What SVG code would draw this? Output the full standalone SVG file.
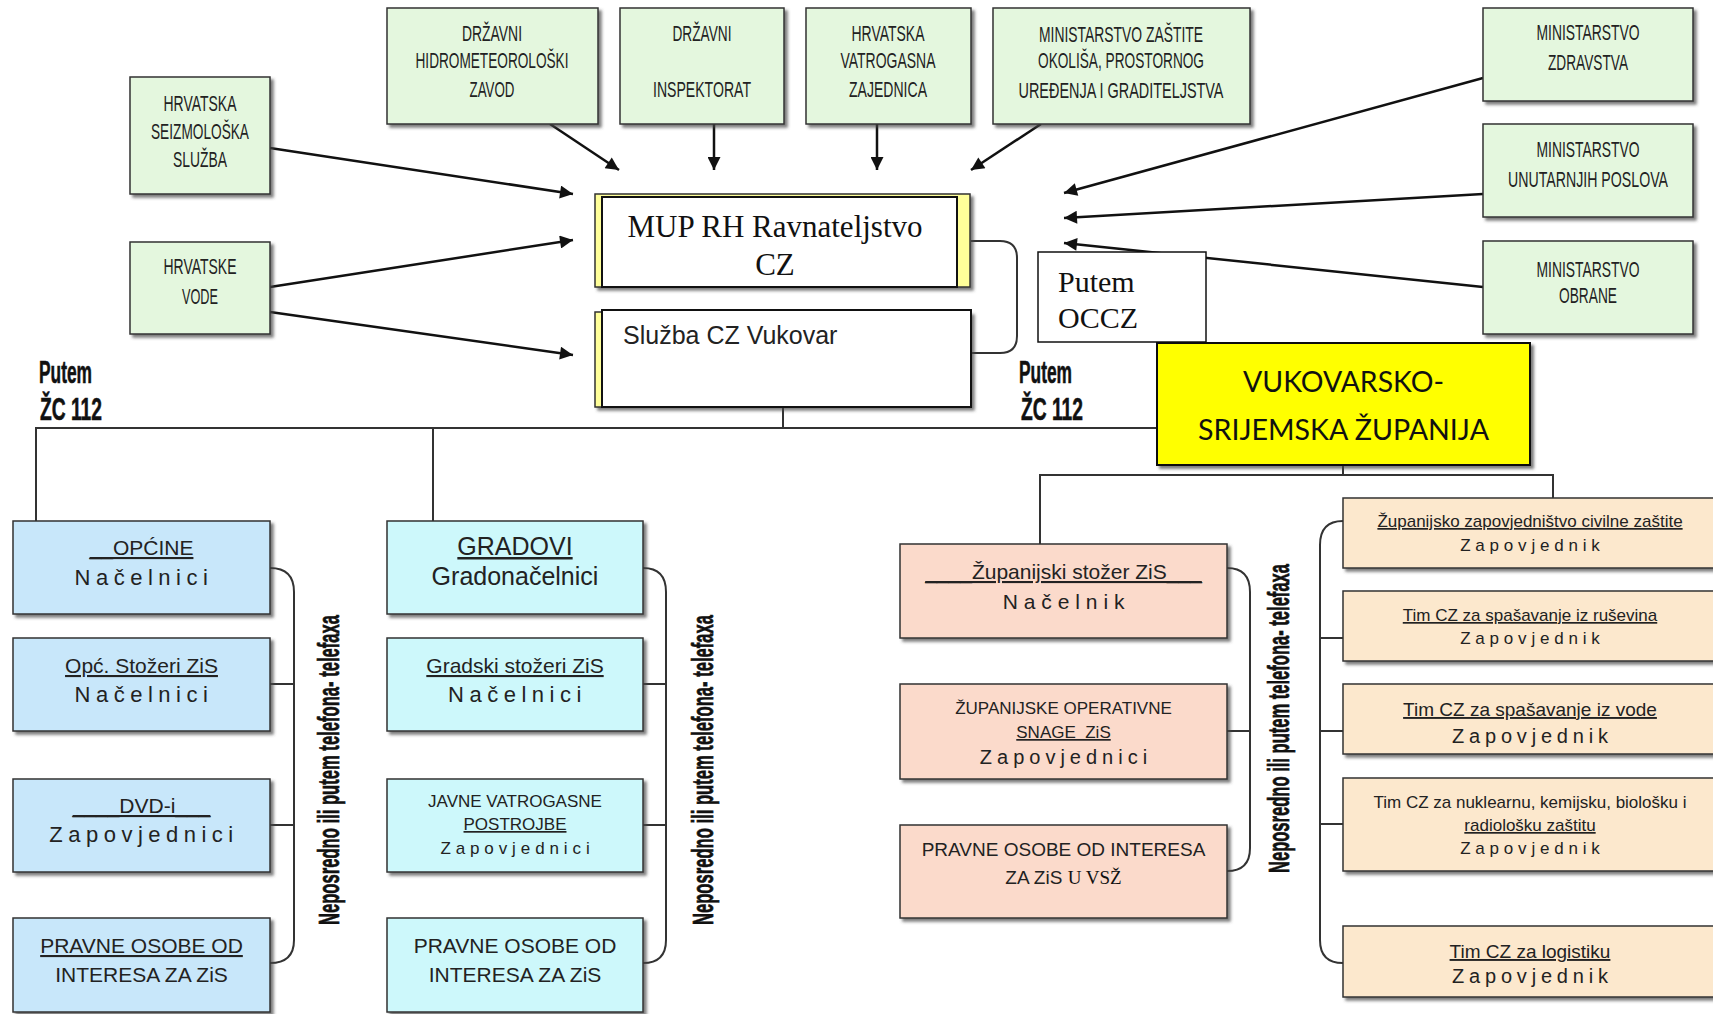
<svg xmlns="http://www.w3.org/2000/svg" width="1713" height="1014" viewBox="0 0 1713 1014">
<defs>
<filter id="sh" x="-5%" y="-5%" width="115%" height="125%"><feDropShadow dx="3" dy="3" stdDeviation="1.5" flood-color="#444" flood-opacity="0.7"/></filter>
<marker id="ah" viewBox="0 0 10 10" refX="10" refY="5" markerWidth="15" markerHeight="13" markerUnits="userSpaceOnUse" orient="auto"><path d="M0,0 L10,5 L0,10 z" fill="#111"/></marker>
<style>
.g{fill:#e4f7de;stroke:#333;stroke-width:1.5;filter:url(#sh)}
.b1{fill:#c8e7fa;stroke:#333;stroke-width:1.5;filter:url(#sh)}
.b2{fill:#cdf8fb;stroke:#333;stroke-width:1.5;filter:url(#sh)}
.sa{fill:#fbdacb;stroke:#333;stroke-width:1.5;filter:url(#sh)}
.ta{fill:#fce8cd;stroke:#333;stroke-width:1.5;filter:url(#sh)}
.gt{font-family:"Liberation Sans Narrow","Liberation Sans",sans-serif;font-size:22px;fill:#222;text-anchor:middle}
.t{font-family:"Liberation Sans",Arial,sans-serif;fill:#222;text-anchor:middle}
.u{text-decoration:underline}
.vt{font-family:"Liberation Sans",Arial,sans-serif;font-weight:bold;font-size:30px;fill:#111;stroke:#111;stroke-width:0.7}
.pz{font-family:"Liberation Sans",Arial,sans-serif;font-weight:bold;font-size:32px;fill:#111;stroke:#111;stroke-width:0.6}
.ln{fill:none;stroke:#333;stroke-width:2}
.ar{fill:none;stroke:#111;stroke-width:2.5;marker-end:url(#ah)}
.tm{font-family:"Liberation Serif","Times New Roman",serif;fill:#111}
</style>
</defs>

<g id="connectors">
<line class="ar" x1="270" y1="148" x2="573" y2="194"/>
<line class="ar" x1="270" y1="287" x2="573" y2="240"/>
<line class="ar" x1="270" y1="312" x2="573" y2="355"/>
<line class="ar" x1="550" y1="124" x2="619" y2="170"/>
<line class="ar" x1="714" y1="124" x2="714" y2="170"/>
<line class="ar" x1="877" y1="124" x2="877" y2="170"/>
<line class="ar" x1="1041" y1="124" x2="971" y2="170"/>
<line class="ar" x1="1483" y1="78" x2="1064" y2="193"/>
<line class="ar" x1="1483" y1="194" x2="1064" y2="218"/>
<line class="ar" x1="1483" y1="287" x2="1064" y2="243"/>
<path class="ln" d="M971,241 H1000 Q1017,241 1017,258 V336 Q1017,353 1000,353 H971"/>
<path class="ln" d="M36,521 V428 H1157 M783,407 V428 M433,428 V521"/>
<path class="ln" d="M1343,465 V475 M1040,544 V475 H1553 V498"/>
<path class="ln" d="M270,568 Q294,568 294,592 V940 Q294,963 270,963 M270,684 H294 M270,825 H294"/>
<path class="ln" d="M643,568 Q666,568 666,592 V940 Q666,963 643,963 M643,684 H666 M643,825 H666"/>
<path class="ln" d="M1227,568 Q1250,568 1250,592 V848 Q1250,871 1227,871 M1227,731 H1250"/>
<path class="ln" d="M1343,521 Q1320,521 1320,545 V940 Q1320,963 1343,963 M1320,638 H1343 M1320,731 H1343 M1320,824 H1343"/>
</g>

<g id="n-seiz"><rect class="g" x="130" y="77" width="140" height="117"/>
<text class="gt" x="200" y="111" textLength="73" lengthAdjust="spacingAndGlyphs">HRVATSKA</text>
<text class="gt" x="200" y="139" textLength="98" lengthAdjust="spacingAndGlyphs">SEIZMOLOŠKA</text>
<text class="gt" x="200" y="167" textLength="54" lengthAdjust="spacingAndGlyphs">SLUŽBA</text></g>

<g id="n-vode"><rect class="g" x="130" y="242" width="140" height="92"/>
<text class="gt" x="200" y="274" textLength="73" lengthAdjust="spacingAndGlyphs">HRVATSKE</text>
<text class="gt" x="200" y="304" textLength="36" lengthAdjust="spacingAndGlyphs">VODE</text></g>

<g id="n-dhmz"><rect class="g" x="387" y="8" width="211" height="116"/>
<text class="gt" x="492" y="41" textLength="60" lengthAdjust="spacingAndGlyphs">DRŽAVNI</text>
<text class="gt" x="492" y="68" textLength="153" lengthAdjust="spacingAndGlyphs">HIDROMETEOROLOŠKI</text>
<text class="gt" x="492" y="97" textLength="45" lengthAdjust="spacingAndGlyphs">ZAVOD</text></g>

<g id="n-insp"><rect class="g" x="620" y="8" width="164" height="116"/>
<text class="gt" x="702" y="41" textLength="59" lengthAdjust="spacingAndGlyphs">DRŽAVNI</text>
<text class="gt" x="702" y="97" textLength="98" lengthAdjust="spacingAndGlyphs">INSPEKTORAT</text></g>

<g id="n-hvz"><rect class="g" x="806" y="8" width="165" height="116"/>
<text class="gt" x="888" y="41" textLength="73" lengthAdjust="spacingAndGlyphs">HRVATSKA</text>
<text class="gt" x="888" y="68" textLength="95" lengthAdjust="spacingAndGlyphs">VATROGASNA</text>
<text class="gt" x="888" y="97" textLength="78" lengthAdjust="spacingAndGlyphs">ZAJEDNICA</text></g>

<g id="n-mzopug"><rect class="g" x="993" y="8" width="257" height="116"/>
<text class="gt" x="1121" y="42" textLength="164" lengthAdjust="spacingAndGlyphs">MINISTARSTVO ZAŠTITE</text>
<text class="gt" x="1121" y="68" textLength="166" lengthAdjust="spacingAndGlyphs">OKOLIŠA, PROSTORNOG</text>
<text class="gt" x="1121" y="98" textLength="205" lengthAdjust="spacingAndGlyphs">UREĐENJA I GRADITELJSTVA</text></g>

<g id="n-zdrav"><rect class="g" x="1483" y="8" width="210" height="93"/>
<text class="gt" x="1588" y="40" textLength="103" lengthAdjust="spacingAndGlyphs">MINISTARSTVO</text>
<text class="gt" x="1588" y="70" textLength="80" lengthAdjust="spacingAndGlyphs">ZDRAVSTVA</text></g>

<g id="n-unut"><rect class="g" x="1483" y="124" width="210" height="93"/>
<text class="gt" x="1588" y="157" textLength="103" lengthAdjust="spacingAndGlyphs">MINISTARSTVO</text>
<text class="gt" x="1588" y="187" textLength="160" lengthAdjust="spacingAndGlyphs">UNUTARNJIH POSLOVA</text></g>

<g id="n-obrane"><rect class="g" x="1483" y="241" width="210" height="93"/>
<text class="gt" x="1588" y="277" textLength="103" lengthAdjust="spacingAndGlyphs">MINISTARSTVO</text>
<text class="gt" x="1588" y="303" textLength="58" lengthAdjust="spacingAndGlyphs">OBRANE</text></g>

<g id="n-mup"><rect x="595" y="194" width="375" height="93" fill="#ffff99" stroke="#333" stroke-width="1.5" filter="url(#sh)"/>
<rect x="602" y="197" width="355" height="90" fill="#fff" stroke="#111" stroke-width="2"/>
<text class="tm" x="775" y="237" font-size="31" text-anchor="middle">MUP RH Ravnateljstvo</text>
<text class="tm" x="775" y="275" font-size="31" text-anchor="middle">CZ</text></g>

<g id="n-sluzba"><rect x="595" y="312" width="376" height="95" fill="#ffff99" stroke="#333" stroke-width="1.5" filter="url(#sh)"/>
<rect x="602" y="310" width="369" height="97" fill="#fff" stroke="#111" stroke-width="2"/>
<text class="t" x="623" y="344" font-size="25" style="text-anchor:start">Služba CZ Vukovar</text></g>

<g id="n-occz"><rect x="1038" y="252" width="168" height="90" fill="#fff" stroke="#111" stroke-width="1.5"/>
<text class="tm" x="1058" y="292" font-size="30">Putem</text>
<text class="tm" x="1058" y="328" font-size="30">OCCZ</text></g>

<g id="n-vsz"><rect x="1157" y="343" width="373" height="122" fill="#ffff00" stroke="#111" stroke-width="2" filter="url(#sh)"/>
<text x="1343.5" y="392" font-family="Lato,'Open Sans',sans-serif" font-size="29" fill="#111" text-anchor="middle" textLength="201" lengthAdjust="spacingAndGlyphs">VUKOVARSKO-</text>
<text x="1343.5" y="440" font-family="Lato,'Open Sans',sans-serif" font-size="29" fill="#111" text-anchor="middle" textLength="291" lengthAdjust="spacingAndGlyphs">SRIJEMSKA ŽUPANIJA</text></g>

<g id="lbl-zc-left">
<text class="pz" x="39" y="383" textLength="53" lengthAdjust="spacingAndGlyphs">Putem</text>
<text class="pz" x="40" y="420" textLength="62" lengthAdjust="spacingAndGlyphs">ŽC 112</text></g>
<g id="lbl-zc-mid">
<text class="pz" x="1019" y="383" textLength="53" lengthAdjust="spacingAndGlyphs">Putem</text>
<text class="pz" x="1021" y="420" textLength="62" lengthAdjust="spacingAndGlyphs">ŽC 112</text></g>

<g id="n-opcine"><rect class="b1" x="13" y="521" width="257" height="93"/>
<text class="t u" x="141.5" y="555" font-size="21">__OPĆINE</text>
<text class="t" x="144" y="585" font-size="22" letter-spacing="5.5">Načelnici</text></g>
<g id="n-opcstozeri"><rect class="b1" x="13" y="638" width="257" height="93"/>
<text class="t u" x="141.5" y="673" font-size="21">Opć. Stožeri ZiS</text>
<text class="t" x="144" y="702" font-size="22" letter-spacing="5.5">Načelnici</text></g>
<g id="n-dvd"><rect class="b1" x="13" y="779" width="257" height="93"/>
<text class="t u" x="141.5" y="813" font-size="21">____DVD-i___</text>
<text class="t" x="144" y="842" font-size="22" letter-spacing="5.5">Zapovjednici</text></g>
<g id="n-pravne1"><rect class="b1" x="13" y="918" width="257" height="94"/>
<text class="t u" x="141.5" y="953" font-size="21">PRAVNE OSOBE OD</text>
<text class="t" x="141.5" y="982" font-size="21">INTERESA ZA ZiS</text></g>

<g id="n-gradovi"><rect class="b2" x="387" y="521" width="256" height="93"/>
<text class="t u" x="515" y="555" font-size="25">GRADOVI</text>
<text class="t" x="515" y="585" font-size="25">Gradonačelnici</text></g>
<g id="n-gradstozeri"><rect class="b2" x="387" y="638" width="256" height="93"/>
<text class="t u" x="515" y="673" font-size="21">Gradski stožeri ZiS</text>
<text class="t" x="517.5" y="702" font-size="22" letter-spacing="5.5">Načelnici</text></g>
<g id="n-jvp"><rect class="b2" x="387" y="779" width="256" height="93"/>
<text class="t" x="515" y="807" font-size="17">JAVNE VATROGASNE</text>
<text class="t u" x="515" y="830" font-size="17">POSTROJBE</text>
<text class="t" x="517.5" y="854" font-size="17" letter-spacing="4.9">Zapovjednici</text></g>
<g id="n-pravne2"><rect class="b2" x="387" y="918" width="256" height="94"/>
<text class="t" x="515" y="953" font-size="21">PRAVNE OSOBE OD</text>
<text class="t" x="515" y="982" font-size="21">INTERESA ZA ZiS</text></g>

<g id="n-zupstozer"><rect class="sa" x="900" y="544" width="327" height="94"/>
<text class="t u" x="1063.5" y="579" font-size="21">____Županijski stožer ZiS___</text>
<text class="t" x="1066.5" y="609" font-size="21" letter-spacing="5.9">Načelnik</text></g>
<g id="n-zupops"><rect class="sa" x="900" y="684" width="327" height="95"/>
<text class="t" x="1063.5" y="714" font-size="17">ŽUPANIJSKE OPERATIVNE</text>
<text class="t u" x="1063.5" y="738" font-size="17" xml:space="preserve">SNAGE  ZiS</text>
<text class="t" x="1066" y="764" font-size="20" letter-spacing="5">Zapovjednici</text></g>
<g id="n-pravne3"><rect class="sa" x="900" y="825" width="327" height="93"/>
<text class="t" x="1063.5" y="856" font-size="19">PRAVNE OSOBE OD INTERESA</text>
<text class="t" x="1063.5" y="884" font-size="19">ZA ZiS <tspan class="tm">U VSŽ</tspan></text></g>

<g id="n-zapcz"><rect class="ta" x="1343" y="498" width="380" height="70"/>
<text class="t u" x="1530" y="527" font-size="17">Županijsko zapovjedništvo civilne zaštite</text>
<text class="t" x="1532.4" y="551" font-size="17" letter-spacing="4.8">Zapovjednik</text></g>
<g id="n-rusevine"><rect class="ta" x="1343" y="591" width="380" height="70"/>
<text class="t u" x="1530" y="621" font-size="17">Tim CZ za spašavanje iz ruševina</text>
<text class="t" x="1532.4" y="644" font-size="17" letter-spacing="4.8">Zapovjednik</text></g>
<g id="n-voda"><rect class="ta" x="1343" y="684" width="380" height="70"/>
<text class="t u" x="1530" y="716" font-size="19">Tim CZ za spašavanje iz vode</text>
<text class="t" x="1532.4" y="743" font-size="20" letter-spacing="4.8">Zapovjednik</text></g>
<g id="n-nkbr"><rect class="ta" x="1343" y="778" width="380" height="93"/>
<text class="t" x="1530" y="808" font-size="17">Tim CZ za nuklearnu, kemijsku, biološku i</text>
<text class="t u" x="1530" y="831" font-size="17">radiološku zaštitu</text>
<text class="t" x="1532.4" y="854" font-size="17" letter-spacing="4.8">Zapovjednik</text></g>
<g id="n-logistika"><rect class="ta" x="1343" y="926" width="380" height="71"/>
<text class="t u" x="1530" y="958" font-size="19">Tim CZ za logistiku</text>
<text class="t" x="1532.4" y="983" font-size="20" letter-spacing="4.8">Zapovjednik</text></g>

<g id="lbl-vertical">
<text class="vt" transform="translate(339,925) rotate(-90)" textLength="310" lengthAdjust="spacingAndGlyphs">Neposredno ili putem telefona- telefaxa</text>
<text class="vt" transform="translate(713,925) rotate(-90)" textLength="310" lengthAdjust="spacingAndGlyphs">Neposredno ili putem telefona- telefaxa</text>
<text class="vt" transform="translate(1289,873) rotate(-90)" textLength="309" lengthAdjust="spacingAndGlyphs">Neposredno ili putem telefona- telefaxa</text>
</g>
</svg>
